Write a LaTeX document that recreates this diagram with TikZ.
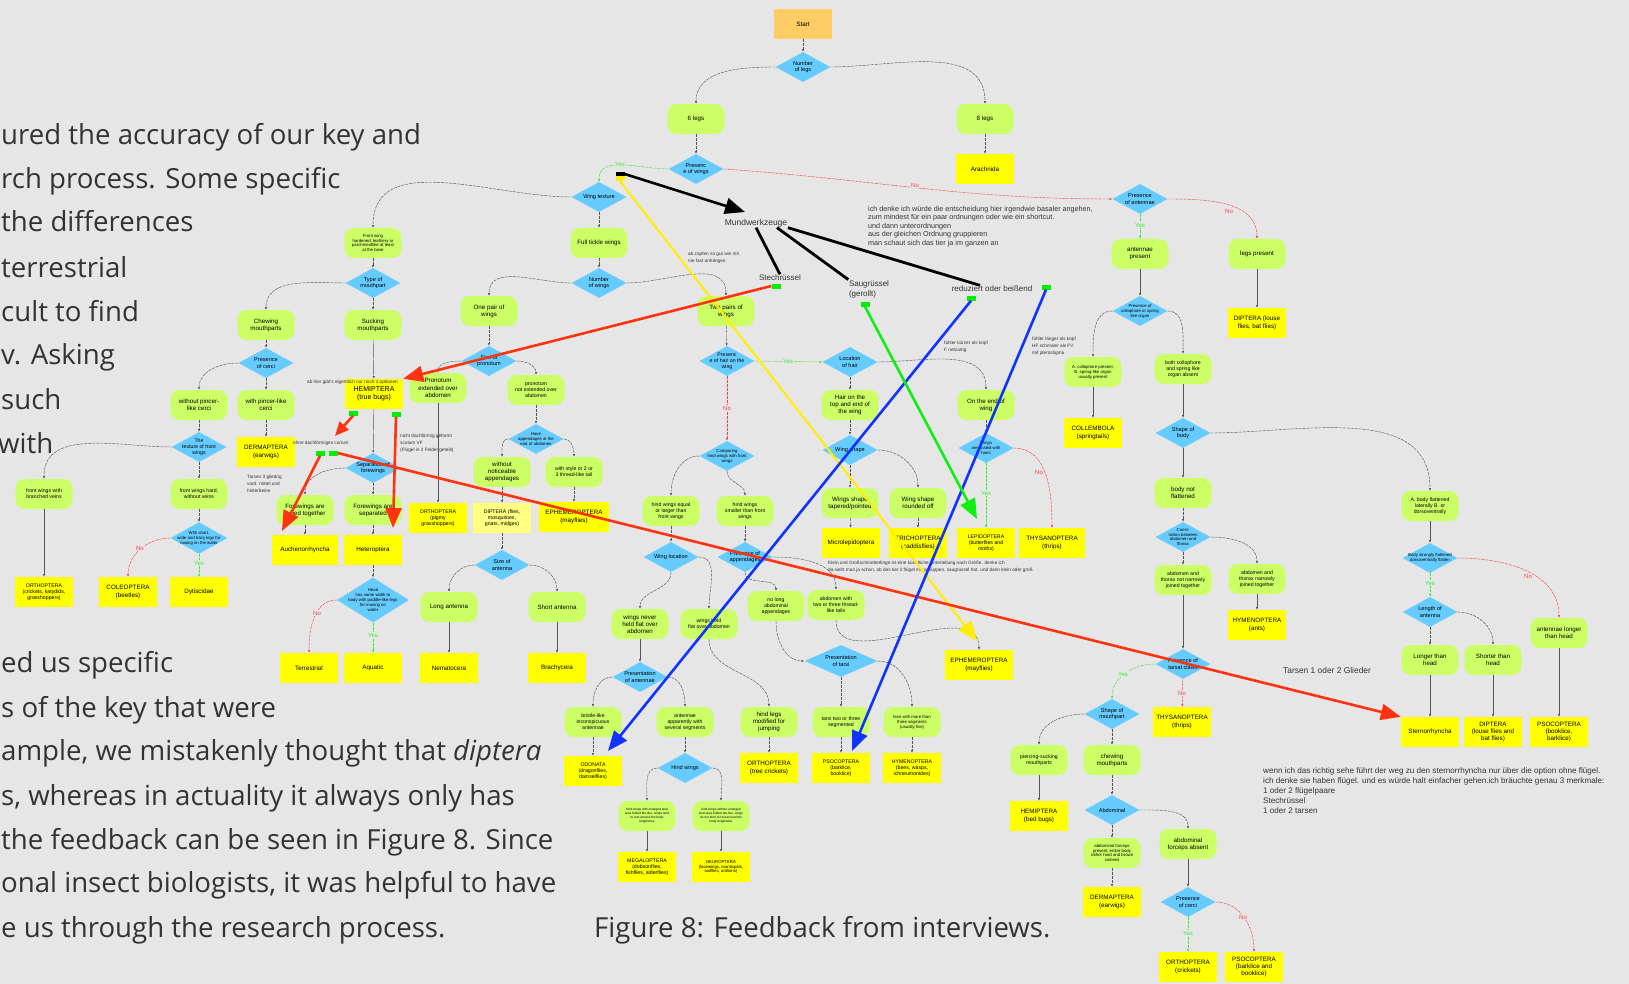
\documentclass[tikz,border=0pt]{standalone}
\usepackage{fontspec}
\setmainfont{Liberation Sans}
\newfontfamily\bodyfont{Open Sans}
\usetikzlibrary{shapes.geometric,arrows.meta}

\definecolor{bggray}{HTML}{E6E6E6}
\definecolor{optgreen}{HTML}{CCFF66}
\definecolor{decblue}{HTML}{66CCFF}
\definecolor{resyellow}{HTML}{FFFF00}
\definecolor{paleyellow}{HTML}{FFFF80}
\definecolor{startorange}{HTML}{FFCC66}
\definecolor{linkgray}{HTML}{555555}
\definecolor{yesgreen}{HTML}{33EE33}
\definecolor{nored}{HTML}{FF4040}
\definecolor{taggreen}{HTML}{00EE00}
\definecolor{fbred}{HTML}{FF3311}
\definecolor{fbblue}{HTML}{1133FF}
\definecolor{fbgreen}{HTML}{11EE11}
\definecolor{fbyellow}{HTML}{FFEE00}
\definecolor{bodygray}{HTML}{333333}

\tikzset{
  startbox/.style={rectangle, fill=startorange, minimum width=58pt, minimum height=30pt, inner sep=1pt, font=\fontsize{6.3}{7.3}\selectfont},
  opt/.style={rectangle, rounded corners=9pt, fill=optgreen, minimum width=57pt, minimum height=30pt, inner sep=1pt, align=center, font=\fontsize{6.2}{7.2}\selectfont},
  res/.style={rectangle, fill=resyellow, minimum width=58pt, minimum height=30pt, inner sep=1pt, align=center, font=\fontsize{6.3}{7.3}\selectfont},
  dec/.style={diamond, fill=decblue, minimum width=55pt, minimum height=30pt, aspect=1.8, inner sep=-2pt, align=center, font=\fontsize{5.6}{6.3}\selectfont},
  smalltext/.style={font=\fontsize{5.2}{6}\selectfont},
  tinytext/.style={font=\fontsize{4.3}{4.9}\selectfont},
  link/.style={draw=linkgray, line width=0.45pt, dash pattern=on 3pt off 1pt, -{Latex[length=2.6pt,width=2.2pt]}},
  plainlink/.style={link, solid},
  yeslink/.style={link, draw=yesgreen},
  nolink/.style={link, draw=nored},
  yeslbl/.style={text=yesgreen, font=\fontsize{6}{6.5}\selectfont, fill=bggray, inner sep=0.6pt},
  nolbl/.style={yeslbl, text=nored},
  tag/.style={fill=taggreen, minimum width=9pt, minimum height=5pt, inner sep=0pt},
  fbarrow/.style={line width=2.6pt, -{Triangle[length=20pt,width=16pt]}},
  fbline/.style={line width=2.8pt},
  fblabel/.style={text=bodygray, font=\fontsize{8}{10}\selectfont, inner sep=0.5pt},
  note/.style={align=left, text=bodygray, inner sep=0pt, anchor=north west, font=\fontsize{7.2}{8.5}\selectfont},
  tinynote/.style={note, font=\fontsize{4.7}{7}\selectfont},
  bodytext/.style={anchor=base west, inner sep=0pt, text=bodygray, font=\bodyfont\fontsize{27.6}{30}\selectfont}
}

\begin{document}
\begin{tikzpicture}[x=1pt, y=1pt]
        \useasboundingbox (0,0) rectangle (1629,-984);
        \fill[bggray] (0,0) rectangle (1629,-984);

        % Running text of the page
        \node[bodytext] (body1) at (1,-145) {ured the accuracy of our key and};
        \node[bodytext] (body2) at (1,-189) {rch process. Some specific};
        \node[bodytext] (body3) at (1,-232) {the differences};
        \node[bodytext] (body4) at (1,-277) {terrestrial};
        \node[bodytext] (body5) at (1,-321) {cult to find};
        \node[bodytext] (body6) at (1,-364) {v. Asking};
        \node[bodytext] (body7) at (1,-409) {such};
        \node[bodytext] (body8) at (-2,-453) {with};
        \node[bodytext] (body9) at (1,-672) {ed us specific};
        \node[bodytext] (body10) at (1,-717) {s of the key that were};
        \node[bodytext] (body11) at (1,-760) {ample, we mistakenly thought that \textit{diptera}};
        \node[bodytext] (body12) at (1,-805) {s, whereas in actuality it always only has};
        \node[bodytext] (body13) at (1,-849) {the feedback can be seen in Figure 8. Since};
        \node[bodytext] (body14) at (1,-892) {onal insect biologists, it was helpful to have};
        \node[bodytext] (body15) at (1,-937) {e us through the research process.};
        \node[bodytext] (caption) at (594,-937) {Figure 8: Feedback from interviews.};

        % Top of the key
        \node[startbox] (start) at (803,-24) {Start};
        \node[dec] (legs) at (803,-67) {Number\\of legs};
        \node[opt] (six) at (696,-119) {6 legs};
        \node[opt] (eight) at (985,-119) {8 legs};
        \node[res] (arach) at (985,-169) {Arachnida};
        \node[dec] (wings) at (696,-169) {Presenc\\e of wings};

        % No wings
        \node[dec] (anten) at (1140,-199) {Presence\\of antennae};
        \node[opt] (antpres) at (1140,-254) {antennae\\present};
        \node[opt] (legspres) at (1257,-254) {legs present};
        \node[res] (dipLouse) at (1257,-323) {DIPTERA (louse\\flies, bat flies)};
        \node[dec, tinytext] (collo) at (1140,-311) {Presence of\\collophore or spring\\like organ};
        \node[opt, tinytext] (colloA) at (1093,-372) {A. collophore present,\\B. spring-like organ\\usually present};
        \node[opt, smalltext] (colloB) at (1183,-369) {both collophore\\and spring like\\organ absent};
        \node[res] (collem) at (1093,-433) {COLLEMBOLA\\(springtails)};
        \node[dec] (shape) at (1183,-433) {Shape of\\body};
        \node[opt] (notflat) at (1183,-493) {body not\\flattened};
        \node[dec, tinytext] (constr) at (1183,-537) {Const-\\riction between\\abdomen and\\thorax};
        \node[opt, smalltext] (notjoin) at (1183,-580) {abdomen and\\thorax not narrowly\\joined together};
        \node[opt, smalltext] (join) at (1257,-579) {abdomen and\\thorax narrowly\\joined together};
        \node[res] (hymAnts) at (1257,-625) {HYMENOPTERA\\(ants)};
        \node[dec] (claws) at (1183,-664) {Presence of\\tarsal claws};
        \node[res] (thysB) at (1182,-722) {THYSANOPTERA\\(thrips)};
        \node[dec] (mouthB) at (1112,-714) {Shape of\\mouthpart};
        \node[opt, smalltext] (pierce) at (1039,-760) {piercing-sucking\\mouthparts};
        \node[opt] (chewB) at (1112,-760) {chewing\\mouthparts};
        \node[res] (hemBed) at (1039,-816) {HEMIPTERA\\(bed bugs)};
        \node[dec] (abdom) at (1112,-810) {Abdominal};
        \node[opt, tinytext] (forcP) at (1112,-853) {abdominal forceps\\present; entire body\\rather hard and brown\\colored};
        \node[opt] (forcA) at (1188,-844) {abdominal\\forceps absent};
        \node[res] (dermB) at (1112,-902) {DERMAPTERA\\(earwigs)};
        \node[dec] (cerciB) at (1188,-902) {Presence\\of cerci};
        \node[res] (orthCr) at (1188,-967) {ORTHOPTERA\\(crickets)};
        \node[res] (psocBB) at (1254,-967) {PSOCOPTERA\\(barklice and\\booklice)};
        \node[opt, smalltext] (flat) at (1430,-506) {A. body flattened\\laterally B. or\\dorsoventrally};
        \node[dec, tinytext] (strong) at (1430,-558) {Body strongly flattened\\dorsoventrally flatten};
        \node[dec] (lenant) at (1430,-612) {Length of\\antenna};
        \node[opt] (antlong) at (1559,-633) {antennae longer\\than head};
        \node[opt] (longer) at (1430,-660) {Longer than\\head};
        \node[opt] (shorter) at (1493,-660) {Shorter than\\head};
        \node[res] (sterno) at (1430,-732) {Sternorrhyncha};
        \node[res] (dipBat) at (1493,-732) {DIPTERA\\(louse flies and\\bat flies)};
        \node[res] (psocBK) at (1559,-732) {PSOCOPTERA\\(booklice,\\barklice)};

        % Wings: texture and mouthparts
        \node[dec] (texture) at (599,-197) {Wing texture};
        \node[opt, tinytext] (hard) at (373,-243) {Front wing\\hardened, leathery or\\parchmentlike at least\\at the base};
        \node[opt] (tickle) at (599,-243) {Full tickle wings};
        \node[dec] (mouth) at (373,-283) {Type of\\mouthpart};
        \node[dec] (number) at (599,-283) {Number\\of wings};
        \node[opt] (chew) at (266,-325) {Chewing\\mouthparts};
        \node[opt] (suck) at (373,-325) {Sucking\\mouthparts};
        \node[opt] (onepair) at (489,-311) {One pair of\\wings};
        \node[opt] (twopair) at (726,-311) {Two pairs of\\wings};
        \node[dec] (cerci) at (266,-363) {Presence\\of cerci};
        \node[opt] (nopincer) at (199,-405) {without pincer-\\like cerci};
        \node[opt] (pincer) at (266,-405) {with pincer-like\\cerci};
        \node[res] (dermA) at (266,-452) {DERMAPTERA\\(earwigs)};
        \node[dec, smalltext] (frtex) at (199,-447) {The\\texture of front\\wings};
        \node[opt, smalltext] (branch) at (44,-494) {front wings with\\branched veins};
        \node[opt, smalltext] (hardw) at (199,-494) {front wings hard,\\without veins};
        \node[dec, tinytext] (row) at (199,-538) {With short,\\wide and hairy legs for\\rowing on the water};
        \node[res, smalltext] (orthK) at (44,-592) {ORTHOPTERA\\(crickets, katydids,\\grasshoppers)};
        \node[res] (coleo) at (128,-592) {COLEOPTERA\\(beetles)};
        \node[res] (dyti) at (199,-592) {Dytiscidae};
        \node[res, font=\fontsize{7}{8}\selectfont] (hemTrue) at (374,-394) {HEMIPTERA\\(true bugs)};
        \node[dec] (sep) at (373,-468) {Separation of\\forewings};
        \node[opt] (joined) at (305,-510) {Forewings are\\joined together};
        \node[opt] (separ) at (373,-510) {Forewings are\\separated};
        \node[res, minimum width=66pt] (auchen) at (305,-550) {Auchenorrhyncha};
        \node[res] (hetero) at (373,-550) {Heteroptera};
        \node[dec, tinytext, minimum width=72pt, minimum height=45pt, aspect=1.6, inner sep=-4pt] (head) at (373,-600) {Head\\has same width to\\body with paddle-like legs\\for moving on\\water};
        \node[res] (terr) at (309,-668) {Terrestrial};
        \node[res] (aqua) at (373,-668) {Aquatic};

        % One pair of wings
        \node[dec] (pron) at (489,-361) {Size of\\pronotum};
        \node[opt] (pronext) at (438,-388) {Pronotum\\extended over\\abdomen};
        \node[opt, smalltext] (pronnot) at (536,-390) {pronotum\\not extended over\\abdomen};
        \node[res, smalltext] (orthP) at (438,-518) {ORTHOPTERA\\(pigmy\\grasshoppers)};
        \node[dec, tinytext] (append) at (536,-439) {Have\\appendages at the\\end of abdomen};
        \node[opt] (noapp) at (502,-472) {without\\noticeable\\appendages};
        \node[opt, smalltext] (tailed) at (574,-472) {with style or 2 or\\3 thread-like tail};
        \node[res, fill=paleyellow, smalltext] (dipFlies) at (502,-518) {DIPTERA (flies,\\mosquitoes,\\gnats, midges)};
        \node[res, minimum width=70pt] (ephA) at (574,-517) {EPHEMEROPTERA\\(mayflies)};
        \node[dec] (santen) at (502,-565) {Size of\\antenna};
        \node[opt] (longant) at (449,-607) {Long antenna};
        \node[opt] (shortant) at (557,-607) {Short antenna};
        \node[res] (nema) at (449,-668) {Nematocera};
        \node[res] (brachy) at (557,-668) {Brachycera};

        % Two pairs of wings
        \node[dec, smalltext] (hair) at (727,-361) {Presenc\\e of hair on the\\wing};
        \node[dec, tinytext] (compare) at (727,-456) {Comparing\\hind wings with front\\wings};
        \node[opt, smalltext] (equal) at (671,-511) {hind wings equal\\or larger than\\front wings};
        \node[opt, smalltext] (smaller) at (745,-511) {hind wings\\smaller than front\\wings};
        \node[dec] (wloc) at (671,-557) {Wing location};
        \node[dec] (presapp) at (745,-557) {Presence of\\appendages};
        \node[opt] (never) at (640,-624) {wings never\\held flat over\\abdomen};
        \node[opt, smalltext] (flatover) at (709,-624) {wings held\\flat over abdomen};
        \node[opt, smalltext] (nolong) at (776,-606) {no long\\abdominal\\appendages};
        \node[opt, smalltext] (tails) at (836,-605) {abdomen with\\two or three thread-\\like tails};
        \node[dec] (prant) at (640,-677) {Presentation\\of antennae};
        \node[opt, smalltext] (bristle) at (593,-722) {bristle-like\\inconspicuous\\antennae};
        \node[opt, smalltext] (segm) at (685,-722) {antennae\\apparently with\\several segments};
        \node[opt] (jump) at (769,-722) {hind legs\\modified for\\jumping};
        \node[dec, minimum width=73pt, minimum height=32pt] (tarsi) at (841,-661) {Presentation\\of tarsi};
        \node[opt, smalltext] (tarsi23) at (841,-722) {tarsi two or three\\segmented};
        \node[opt, tinytext] (tarsi5) at (912,-722) {tarsi with more than\\three segments\\(usually five)};
        \node[res, smalltext] (odon) at (593,-771) {ODONATA\\(dragonflies,\\damselflies)};
        \node[dec] (hindw) at (685,-768) {Hind wings};
        \node[res] (orthT) at (769,-768) {ORTHOPTERA\\(tree crickets)};
        \node[res, smalltext] (psocBL) at (841,-768) {PSOCOPTERA\\(barklice,\\booklice)};
        \node[res, smalltext] (hymBees) at (912,-768) {HYMENOPTERA\\(bees, wasps,\\ichneumonides)};
        \node[opt, font=\fontsize{3.2}{4}\selectfont] (fanyes) at (647,-816) {hind wings with enlarged anal\\area folded fan-like, wings tend\\to rest around the body\\lengthwise};
        \node[opt, font=\fontsize{3.2}{4}\selectfont] (fanno) at (721,-816) {hind wings without enlarged\\anal area folded fan-like, wings\\do not tend to rest around the\\body lengthwise};
        \node[res, smalltext] (mega) at (647,-867) {MEGALOPTERA\\(dobsonflies,\\fishflies, alderflies)};
        \node[res, tinytext] (neuro) at (721,-867) {NEUROPTERA\\(lacewings, mantispids,\\owlflies, antlions)};
        \node[res, minimum width=68pt] (ephB) at (979,-665) {EPHEMEROPTERA\\(mayflies)};

        % Hair on the wing
        \node[dec] (lochair) at (850,-362) {Location\\of hair};
        \node[opt] (topend) at (850,-405) {Hair on the\\top and end of\\the wing};
        \node[opt] (endw) at (986,-405) {On the end of\\wing};
        \node[dec] (wshape) at (850,-450) {Wing shape};
        \node[dec, tinytext] (scaled) at (986,-448) {Wings\\are scaled with\\hairs};
        \node[opt] (tapered) at (850,-503) {Wings shape\\tapered/pointed};
        \node[opt] (rounded) at (918,-503) {Wing shape\\rounded off};
        \node[res] (micro) at (851,-543) {Microlepidoptera};
        \node[res] (trich) at (918,-543) {TRICHOPTERA\\(caddisflies)};
        \node[res, smalltext] (lepi) at (986,-543) {LEPIDOPTERA\\(butterflies and\\moths)};
        \node[res, minimum width=66pt] (thysA) at (1052,-543) {THYSANOPTERA\\(thrips)};

        % Connectors, top
        \draw[link] (start) -- (legs);
        \draw[link] (legs.west) to[out=180,in=90] (six.north);
        \draw[link] (legs.east) to[out=0,in=90] (eight.north);
        \draw[link] (six) -- (wings);
        \draw[link] (eight) -- (arach);
        \draw[yeslink] (wings.west) to[out=180,in=90] (texture.north);
        \draw[nolink] (wings.east) to[out=-4,in=180] (anten.west);
        \node[yeslbl] (yesWings) at (620,-164) {Yes};
        \node[nolbl] (noWings) at (915,-185) {No};

        % Connectors, no wings
        \draw[yeslink] (anten) -- (antpres);
        \draw[nolink] (anten.east) to[out=0,in=90] (legspres.north);
        \node[yeslbl] (yesAnten) at (1140,-225) {Yes};
        \node[nolbl] (noAnten) at (1229,-211) {No};
        \draw[plainlink] (legspres) -- (dipLouse);
        \draw[plainlink] (antpres) -- (collo);
        \draw[link] (collo.west) to[out=180,in=90] (colloA.north);
        \draw[link] (collo.east) to[out=0,in=90] (colloB.north);
        \draw[plainlink] (colloA) -- (collem);
        \draw[plainlink] (colloB) -- (shape);
        \draw[plainlink] (shape) -- (notflat);
        \draw[link] (shape.east) to[out=0,in=90] (flat.north);
        \draw[link] (notflat) -- (constr);
        \draw[link] (constr) -- (notjoin);
        \draw[link] (constr.east) to[out=0,in=90] (join.north);
        \draw[plainlink] (join) -- (hymAnts);
        \draw[plainlink] (notjoin) -- (claws);
        \draw[yeslink] (claws.west) to[out=180,in=90] (mouthB.north);
        \draw[nolink] (claws) -- (thysB);
        \node[yeslbl] (yesClaws) at (1123,-674) {Yes};
        \node[nolbl] (noClaws) at (1182,-693) {No};
        \draw[link] (mouthB.west) to[out=180,in=90] (pierce.north);
        \draw[link] (mouthB) -- (chewB);
        \draw[plainlink] (pierce) -- (hemBed);
        \draw[link] (chewB) -- (abdom);
        \draw[link] (abdom) -- (forcP);
        \draw[link] (abdom.east) to[out=0,in=90] (forcA.north);
        \draw[link] (forcP) -- (dermB);
        \draw[plainlink] (forcA) -- (cerciB);
        \draw[yeslink] (cerciB) -- (orthCr);
        \draw[nolink] (cerciB.east) to[out=0,in=90] (psocBB.north);
        \node[yeslbl] (yesCerci) at (1188,-933) {Yes};
        \node[nolbl] (noCerci) at (1243,-917) {No};
        \draw[plainlink] (flat) -- (strong);
        \draw[yeslink] (strong) -- (lenant);
        \draw[nolink] (strong.east) to[out=0,in=90] (antlong.north);
        \node[yeslbl] (yesStrong) at (1430,-583) {Yes};
        \node[nolbl] (noStrong) at (1528,-576) {No};
        \draw[link] (lenant) -- (longer);
        \draw[link] (lenant.east) to[out=0,in=90] (shorter.north);
        \draw[plainlink] (longer) -- (sterno);
        \draw[plainlink] (shorter) -- (dipBat);
        \draw[plainlink] (antlong) -- (psocBK);

        % Connectors, texture and mouthparts
        \draw[link] (texture.west) to[out=180,in=90] (hard.north);
        \draw[link] (texture) -- (tickle);
        \draw[link] (hard) -- (mouth);
        \draw[link] (mouth.west) to[out=180,in=90] (chew.north);
        \draw[link] (mouth) -- (suck);
        \draw[link] (tickle) -- (number);
        \draw[link] (number.west) to[out=180,in=90] (onepair.north);
        \draw[link] (number.east) to[out=0,in=90] (twopair.north);
        \draw[link] (chew) -- (cerci);
        \draw[link] (cerci.west) to[out=180,in=90] (nopincer.north);
        \draw[link] (cerci) -- (pincer);
        \draw[link] (pincer) -- (dermA);
        \draw[link] (nopincer) -- (frtex);
        \draw[link] (frtex.west) to[out=180,in=90] (branch.north);
        \draw[link] (frtex) -- (hardw);
        \draw[plainlink] (branch) -- (orthK);
        \draw[link] (hardw) -- (row);
        \draw[nolink] (row.west) to[out=180,in=90] (coleo.north);
        \draw[yeslink] (row) -- (dyti);
        \node[nolbl] (noRow) at (140,-548) {No};
        \node[yeslbl] (yesRow) at (199,-563) {Yes};
        \draw[plainlink] (suck) -- (hemTrue);
        \draw[plainlink] (hemTrue) -- (sep);
        \draw[link] (sep.west) to[out=180,in=90] (joined.north);
        \draw[link] (sep) -- (separ);
        \draw[link] (joined) -- (auchen);
        \draw[link] (separ) -- (hetero);
        \draw[link] (hetero) -- (head);
        \draw[nolink] (head.west) to[out=180,in=90] (terr.north);
        \draw[yeslink] (head) -- (aqua);
        \node[nolbl] (noHead) at (317,-613) {No};
        \node[yeslbl] (yesHead) at (373,-635) {Yes};

        % Connectors, one pair of wings
        \draw[link] (onepair) -- (pron);
        \draw[link] (pron.west) to[out=180,in=90] (pronext.north);
        \draw[link] (pron.east) to[out=0,in=90] (pronnot.north);
        \draw[plainlink] (pronext) -- (orthP);
        \draw[link] (pronnot) -- (append);
        \draw[link] (append.west) to[out=180,in=90] (noapp.north);
        \draw[link] (append.east) to[out=0,in=90] (tailed.north);
        \draw[link] (noapp) -- (dipFlies);
        \draw[link] (tailed) -- (ephA);
        \draw[link] (dipFlies) -- (santen);
        \draw[link] (santen.west) to[out=180,in=90] (longant.north);
        \draw[link] (santen.east) to[out=0,in=90] (shortant.north);
        \draw[plainlink] (longant) -- (nema);
        \draw[plainlink] (shortant) -- (brachy);

        % Connectors, two pairs of wings
        \draw[link] (twopair) -- (hair);
        \draw[nolink] (hair) -- (compare);
        \draw[yeslink] (hair.east) -- (lochair.west);
        \node[yeslbl] (yesHair) at (788,-361) {Yes};
        \node[nolbl] (noHair) at (727,-408) {No};
        \draw[link] (compare.west) to[out=180,in=90] (equal.north);
        \draw[link] (compare.south) to[out=-90,in=90] (smaller.north);
        \draw[link] (equal) -- (wloc);
        \draw[link] (smaller) -- (presapp);
        \draw[link] (wloc.south) to[out=-90,in=90] (never.north);
        \draw[link] (wloc.east) to[out=0,in=90] (flatover.north);
        \draw[link] (presapp.south) to[out=-90,in=90] (nolong.north);
        \draw[link] (presapp.east) to[out=0,in=90] (tails.north);
        \draw[plainlink] (never) -- (prant);
        \draw[link] (flatover.south) to[out=-90,in=90] (jump.north);
        \draw[link] (nolong.south) to[out=-90,in=180] (tarsi.west);
        \draw[link] (tails.south) to[out=-90,in=90] (ephB.north);
        \draw[link] (prant.west) to[out=180,in=90] (bristle.north);
        \draw[link] (prant.east) to[out=0,in=90] (segm.north);
        \draw[link] (tarsi) -- (tarsi23);
        \draw[link] (tarsi.east) to[out=0,in=90] (tarsi5.north);
        \draw[link] (bristle) -- (odon);
        \draw[link] (segm) -- (hindw);
        \draw[link] (jump) -- (orthT);
        \draw[link] (tarsi23) -- (psocBL);
        \draw[link] (tarsi5) -- (hymBees);
        \draw[link] (hindw.west) to[out=180,in=90] (fanyes.north);
        \draw[link] (hindw.east) to[out=0,in=90] (fanno.north);
        \draw[plainlink] (fanyes) -- (mega);
        \draw[plainlink] (fanno) -- (neuro);

        % Connectors, hair on the wing
        \draw[link] (lochair) -- (topend);
        \draw[link] (lochair.east) to[out=0,in=90] (endw.north);
        \draw[link] (topend) -- (wshape);
        \draw[link] (wshape) -- (tapered);
        \draw[link] (wshape.east) to[out=0,in=90] (rounded.north);
        \draw[link] (tapered) -- (micro);
        \draw[link] (rounded) -- (trich);
        \draw[link] (endw) -- (scaled);
        \draw[yeslink] (scaled) -- (lepi);
        \draw[nolink] (scaled.east) to[out=0,in=90] (thysA.north);
        \node[yeslbl] (yesScaled) at (986,-493) {Yes};
        \node[nolbl] (noScaled) at (1039,-472) {No};

        % Feedback notes
        \node[note] (noteTop) at (868,-206) {ich denke ich würde die entscheidung hier irgendwie basaler angehen,\\zum mindest für ein paar ordnungen oder wie ein shortcut.\\und dann unterordnungen\\aus der gleichen Ordnung gruppieren\\man schaut sich das tier ja im ganzen an};
        \node[note, font=\fontsize{8.1}{10}\selectfont] (noteBottom) at (1263,-767) {wenn ich das richtig sehe führt der weg zu den sternorrhyncha nur über die option ohne flügel.\\ich denke sie haben flügel. und es würde halt einfacher gehen.ich bräuchte genau 3 merkmale:\\1 oder 2 flügelpaare\\Stechrüssel\\1 oder 2 tarsen};
        \node[fblabel, font=\fontsize{8.4}{10}\selectfont] (tarsenNote) at (1327,-670) {Tarsen 1 oder 2 Glieder};
        \node[tinynote] (noteHem) at (307,-380) {ab hier gibt's eigentlich nur noch 3 optionen};
        \node[tinynote] (noteOhne) at (293,-441) {ohne dachförmiges corium};
        \node[tinynote] (noteDach) at (400,-434) {nicht dachförmig geformt\\scutum VF\\(Flügel in 2 Felder geteilt)};
        \node[tinynote] (noteTarsen) at (247,-475) {Tarsen 3 gliedrig\\vord. mittel und\\hinterbeine};
        \node[tinynote] (noteZapf) at (688,-252) {ab zapfen so gut wie mit\\nie fast anhängen};
        \node[tinynote] (noteKurz) at (944,-341) {fühler kürzer als kopf\\F netzartig};
        \node[tinynote] (noteLang) at (1032,-337) {fühler länger als kopf\\HF schmaler als FV\\mit pterostigma};
        \node[tinynote] (noteKlein) at (828,-561) {Klein und Großschmetterlinge ist eine künstliche Unterteilung nach Größe. denke ich\\da sieht man ja schon, ob das tier 2 flügel mit schuppen, saugrüssel hat. und dann klein oder groß};

        % Feedback: mouthparts
        \node[fblabel, font=\fontsize{8.5}{10}\selectfont] (mund) at (756,-223) {Mundwerkzeuge};
        \node[fblabel] (stech) at (780,-278) {Stechrüssel};
        \node[fblabel, align=left] (saug) at (869,-289) {Saugrüssel\\(gerollt)};
        \node[fblabel] (redu) at (992,-289) {reduziert oder beißend};
        \node[fill=black, minimum width=9pt, minimum height=4pt, inner sep=0pt] (tagMund) at (620,-174) {};
        \node[fill=fbyellow, minimum width=9pt, minimum height=5pt, inner sep=0pt] (tagEph) at (620,-178.5) {};
        \node[tag] (tagStech) at (776,-286) {};
        \node[tag] (tagSaug) at (865,-304) {};
        \node[tag] (tagRedu) at (971,-298) {};
        \node[tag] (tagRedu2) at (1046,-287) {};
        \node[tag] (tagHemL) at (353,-413) {};
        \node[tag] (tagHemR) at (396,-414) {};
        \node[tag] (tagOhneL) at (320,-453) {};
        \node[tag] (tagOhneR) at (333,-453) {};

        \coordinate (mundTip) at (745,-212);
        \coordinate (hemTipL) at (335,-436);
        \coordinate (hetTip) at (393,-528);
        \coordinate (auchTip) at (282,-531);
        \coordinate (odonTip) at (608,-751);
        \coordinate (psocTip) at (852,-751);
        \coordinate (lepiTip) at (977,-519);
        \coordinate (ephTip) at (977,-641);

        \draw[fbarrow, draw=black] (tagMund.east) -- (mundTip);
        \draw[fbline] (mund.south) -- (stech.north);
        \draw[fbline] ([xshift=21pt]mund.south) -- (saug.north west);
        \draw[fbline] (mund.south east) -- ([xshift=-12pt]redu.north);
        \draw[fbarrow, draw=fbyellow, line width=2pt] (tagEph.south) -- (ephTip);
        \draw[fbarrow, draw=fbred] (tagStech.west) -- (hemTrue.north east);
        \draw[fbarrow, draw=fbred, -{Triangle[length=14pt,width=12pt]}] (tagHemL.south) -- (hemTipL);
        \draw[fbarrow, draw=fbred] (tagHemR.south) -- (hetTip);
        \draw[fbarrow, draw=fbred] (tagOhneL.south) -- (auchTip);
        \draw[fbarrow, draw=fbred] (tagOhneR.east) -- (sterno.north west);
        \draw[fbarrow, draw=fbblue] (tagRedu.south) -- (odonTip);
        \draw[fbarrow, draw=fbblue] (tagRedu2.south) -- (psocTip);
        \draw[fbarrow, draw=fbgreen] (tagSaug.south) -- (lepiTip);
    \end{tikzpicture}
\end{document}
